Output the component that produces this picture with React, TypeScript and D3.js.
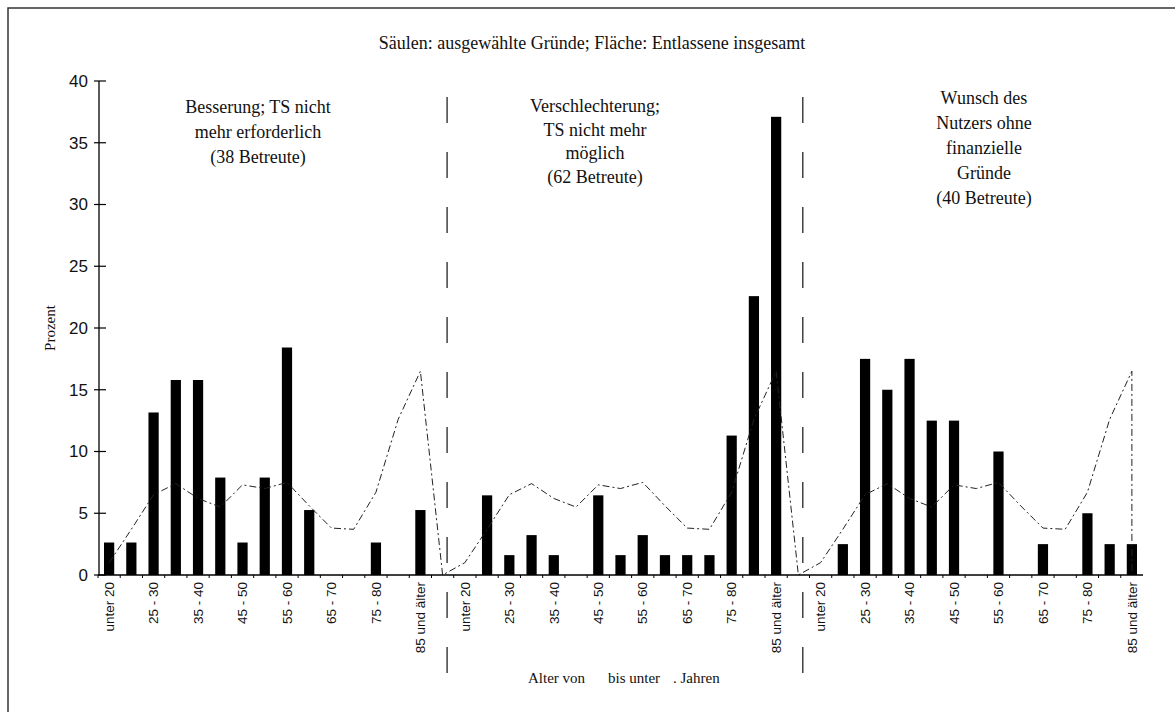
import React from "react";
import * as d3 from "d3";

const ageCategories = [
  "unter 20", "20 - 25", "25 - 30", "30 - 35", "35 - 40", "40 - 45", "45 - 50",
  "50 - 55", "55 - 60", "60 - 65", "65 - 70", "70 - 75", "75 - 80", "80 - 85", "85 und älter",
];
const shownAgeLabels = ["unter 20", "25 - 30", "35 - 40", "45 - 50", "55 - 60", "65 - 70", "75 - 80", "85 und älter"];

const groupBesserung = [2.63, 2.63, 13.16, 15.79, 15.79, 7.89, 2.63, 7.89, 18.42, 5.26, 0, 0, 2.63, 0, 5.26];
const groupVerschlechterung = [0, 6.45, 1.61, 3.23, 1.61, 0, 6.45, 1.61, 3.23, 1.61, 1.61, 1.61, 11.29, 22.58, 37.1];
const groupWunsch = [0, 2.5, 17.5, 15, 17.5, 12.5, 12.5, 0, 10, 0, 2.5, 0, 5, 2.5, 2.5];
const entlasseneInsgesamt = [1.0, 3.7, 6.5, 7.4, 6.2, 5.5, 7.3, 7.0, 7.5, 5.6, 3.8, 3.7, 6.7, 12.6, 16.5];

const groupLabels = [
  ["Besserung; TS nicht", "mehr erforderlich", "(38 Betreute)"],
  ["Verschlechterung;", "TS nicht mehr", "möglich", "(62 Betreute)"],
  ["Wunsch des", "Nutzers ohne", "finanzielle", "Gründe", "(40 Betreute)"],
];
const yTicks = [0, 5, 10, 15, 20, 25, 30, 35, 40];
const titleText = "Säulen: ausgewählte Gründe; Fläche: Entlassene insgesamt";
const yTitle = "Prozent";

const groups = [groupBesserung, groupVerschlechterung, groupWunsch];

export default function App() {
  const W = 1175, H = 712;
  const serif = "'Liberation Serif', 'Times New Roman', serif";
  const sans = "'Liberation Sans', Arial, sans-serif";

  const slots: string[] = [];
  groups.forEach((_, g) => {
    ageCategories.forEach((c) => slots.push(`${g}|${c}`));
    if (g < groups.length - 1) slots.push(`gap${g}`);
  });

  const x = d3.scaleBand<string>().domain(slots).range([98, 1143]).padding(0);
  const bw = x.bandwidth();
  const cx = (k: string) => (x(k) as number) + bw / 2;
  const y = d3.scaleLinear().domain([0, 40]).range([575, 81]);

  const bars: { key: string; v: number }[] = [];
  groups.forEach((vals, g) => vals.forEach((v, i) => bars.push({ key: `${g}|${ageCategories[i]}`, v })));

  const linePts: [number, number][] = [];
  groups.forEach((_, g) => {
    entlasseneInsgesamt.forEach((v, i) => linePts.push([cx(`${g}|${ageCategories[i]}`), y(v)]));
    if (g < groups.length - 1) linePts.push([cx(`gap${g}`), y(0)]);
  });
  linePts.push([cx(`${groups.length - 1}|${ageCategories[ageCategories.length - 1]}`), y(0)]);
  const linePath = d3.line()(linePts) as string;

  const barW = bw * 0.46;
  const groupCenters = [258, 595, 984];
  const groupLineTop = [107, 106, 98];
  const groupLineGap = [25, 23.5, 25];

  return (
    <svg width={W} height={H} style={{ position: "absolute", left: 0, top: 0, background: "#fff" }}>
      <rect x={0} y={0} width={W} height={H} fill="#fff" />
      <path d={`M${W},8 H8 V${H}`} fill="none" stroke="#333" strokeWidth={1.5} />
      <text x={592} y={49} textAnchor="middle" fontFamily={serif} fontSize={18} fill="#111">{titleText}</text>

      {[0, 1].map((g) => (
        <line key={g} x1={cx(`gap${g}`) + bw * 0.2} x2={cx(`gap${g}`) + bw * 0.2} y1={97} y2={697}
          stroke="#111" strokeWidth={1.2} strokeDasharray="26,29" />
      ))}

      {bars.filter((b) => b.v > 0).map((b) => (
        <rect key={b.key} x={cx(b.key) - barW / 2} y={y(b.v)} width={barW} height={y(0) - y(b.v)} fill="#000" />
      ))}

      <path d={linePath} fill="none" stroke="#222" strokeWidth={1} strokeDasharray="7,3,2,3" />

      <line x1={99} x2={99} y1={y(40)} y2={y(0)} stroke="#000" strokeWidth={1.3} />
      {yTicks.map((t) => (
        <g key={t}>
          <line x1={94} x2={106} y1={y(t)} y2={y(t)} stroke="#000" strokeWidth={1.2} />
          <text x={88} y={y(t)} dy="0.35em" textAnchor="end" fontFamily={sans} fontSize={17} fill="#111">{t}</text>
        </g>
      ))}
      <text transform={`translate(55,${y(20)}) rotate(-90)`} textAnchor="middle" fontFamily={serif} fontSize={15} fill="#111">{yTitle}</text>

      <line x1={98} x2={1143} y1={y(0)} y2={y(0)} stroke="#000" strokeWidth={1.5} />
      {slots.map((k) => (
        <line key={k} x1={x(k) as number} x2={x(k) as number} y1={y(0)} y2={y(0) + 3} stroke="#000" strokeWidth={1} />
      ))}
      {groups.map((_, g) =>
        shownAgeLabels.map((lab) => (
          <text key={`${g}-${lab}`} transform={`translate(${cx(`${g}|${lab}`)},${y(0) + 7}) rotate(-90)`}
            dy="0.35em" textAnchor="end" fontFamily={sans} fontSize={13.5} fill="#111">{lab}</text>
        ))
      )}
      <text x={528} y={683} fontFamily={serif} fontSize={15} fill="#111">Alter von</text>
      <text x={608} y={683} fontFamily={serif} fontSize={15} fill="#111">bis unter</text>
      <text x={673} y={683} fontFamily={serif} fontSize={15} fill="#111">. Jahren</text>

      {groupLabels.map((lines, g) => (
        <text key={g} textAnchor="middle" fontFamily={serif} fontSize={18} fill="#111">
          {lines.map((l, i) => (
            <tspan key={i} x={groupCenters[g]} y={groupLineTop[g] + i * groupLineGap[g]} dy="0.35em">{l}</tspan>
          ))}
        </text>
      ))}
    </svg>
  );
}
